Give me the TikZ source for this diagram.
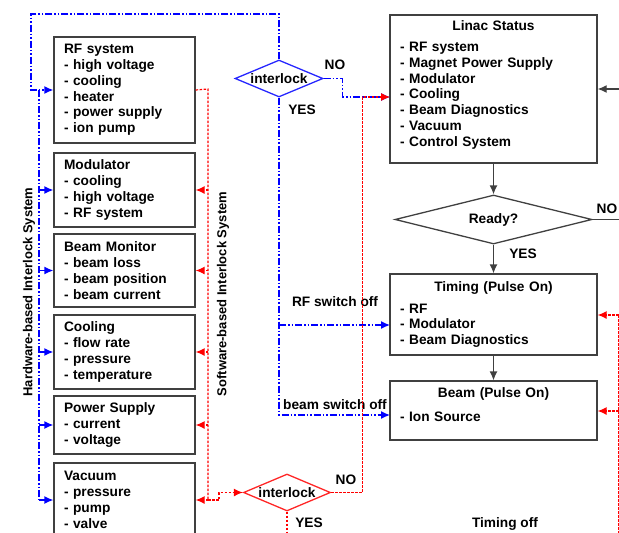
\documentclass[tikz,border=0pt]{standalone}
\usepackage{fontspec}
\setmainfont{Liberation Sans}
\usepackage{color}
\usetikzlibrary{shapes.geometric,arrows.meta}

\begin{document}
\begin{tikzpicture}[x=1pt,y=-1pt,
  every node/.style={font=\fontsize{13.7}{15.8}\selectfont\bfseries, text=black},
  sysbox/.style={draw=black!75, line width=1.3pt, text width=121pt, inner xsep=10pt, inner ysep=0pt, align=left},
  statbox/.style={draw=black!75, line width=1.3pt, text width=187pt, inner xsep=10pt, inner ysep=0pt},
  decide/.style={diamond, line width=1.3pt, inner sep=0pt, align=center},
  sidetitle/.style={rotate=90, font=\fontsize{13}{15.8}\selectfont\bfseries},
  hwlock/.style={draw=blue, line width=1.3pt, dash pattern=on 7pt off 2pt on 1.5pt off 2pt on 1.5pt off 2pt},
  swlock/.style={draw=red, line width=1.2pt, dash pattern=on 2.5pt off 1.5pt},
  flow/.style={draw=black!75, line width=1.3pt},
  sigarrow/.style={-{Latex[length=9pt,width=8pt]}}]
\useasboundingbox (0,0) rectangle (619,533);
\clip (0,0) rectangle (619,533);

\node[sysbox, minimum height=106pt] (rf) at (124.5,90) {RF system\\- high voltage\\- cooling\\- heater\\- power supply\\- ion pump};
\node[sysbox, minimum height=74pt] (mod) at (124.5,190) {Modulator\\- cooling\\- high voltage\\- RF system};
\node[sysbox, minimum height=73pt] (bmon) at (124.5,270.5) {Beam Monitor\\- beam loss\\- beam position\\- beam current};
\node[sysbox, minimum height=74pt] (cool) at (124.5,352) {Cooling\\- flow rate\\- pressure\\- temperature};
\node[sysbox, minimum height=58pt] (psu) at (124.5,425) {Power Supply\\- current\\- voltage};
\node[sysbox, minimum height=74pt] (vac) at (124.5,500) {Vacuum\\- pressure\\- pump\\- valve};

\node[sidetitle] (hwlabel) at (29,292) {Hardware-based Interlock System};
\node[sidetitle] (swlabel) at (223,294) {Software-based Interlock System};

\node[statbox, minimum height=148pt] (linac) at (493.5,89) {\centering Linac Status\par\vspace{5pt}\raggedright
- RF system\\- Magnet Power Supply\\- Modulator\\- Cooling\\- Beam Diagnostics\\- Vacuum\\- Control System\par\vspace{8pt}};
\node[decide, draw=black!75, minimum width=197pt, minimum height=49pt, aspect=4] (ready) at (493.5,219.5) {Ready?};
\node[statbox, minimum height=81pt] (timing) at (493.5,314.5) {\centering Timing (Pulse On)\par\vspace{6pt}\raggedright
- RF\\- Modulator\\- Beam Diagnostics};
\node[statbox, minimum height=59pt] (beam) at (493.5,410.5) {\centering Beam (Pulse On)\par\vspace{8pt}\raggedright
- Ion Source\par\vspace{12pt}};

\node[decide, draw=blue!85, minimum width=88pt, minimum height=37pt, aspect=2.4] (hwchk) at (279,78.5) {interlock};
\node[decide, draw=red!85, minimum width=87pt, minimum height=37pt, aspect=2.4] (swchk) at (287,492.5) {interlock};

\node (hwno) at (335,65) {NO};
\node (hwyes) at (302,110) {YES};
\node (swno) at (346,480) {NO};
\node (swyes) at (309,523) {YES};
\node (rdyno) at (607,209) {NO};
\node (rdyyes) at (523,254) {YES};
\node (rfoff) at (335,302) {RF switch off};
\node (beamoff) at (335,405) {beam switch off};
\node (toff) at (505,524) {Timing off};

\coordinate (hwtop) at (31,14);
\coordinate (hwbus) at (39,90);
\coordinate (swbus) at (208,89);
\coordinate (statin) at (390,97);
\coordinate (timein) at (390,325);
\coordinate (beamin) at (390,415);
\coordinate (loopback) at (630,89);
\coordinate (offbus) at (618.5,315);
\coordinate (beamstop) at (618.5,411);

% hardware interlock
\draw[hwlock, sigarrow] (hwchk.north) |- (hwtop) |- (rf.west);
\draw[hwlock] (hwbus) -- (hwbus |- vac.west);
\foreach \b in {mod,bmon,cool,psu,vac}
  \draw[hwlock, sigarrow] (hwbus |- \b.west) -- (\b.west);
\draw[hwlock, sigarrow] (hwchk.east) -- ++(19,0) |- (statin);
\draw[hwlock, sigarrow] (hwchk.south) |- (beamin);
\draw[hwlock, sigarrow] (hwchk.south |- timein) -- (timein);

% software interlock
\draw[swlock] (rf.east) -- (swbus) -- (swbus |- vac.east);
\foreach \b in {mod,bmon,cool,psu,vac}
  \draw[swlock, sigarrow] (swbus |- \b.east) -- (\b.east);
\draw[swlock, sigarrow] (swbus |- vac.east) -- ++(11,0) |- (swchk.west);
\draw[swlock, sigarrow] (swchk.east) -- ++(31,0) |- (statin);
\draw[swlock] (swchk.south) -- ++(0,40);

% status flow
\draw[flow, sigarrow] (linac) -- (ready);
\draw[flow, sigarrow] (ready) -- (timing);
\draw[flow, sigarrow] (timing) -- (beam);
\draw[flow, sigarrow] (loopback) -- (linac.east);
\draw[flow] (ready.east) -- ++(40,0);
\draw[swlock, sigarrow] (offbus) -- (timing.east |- offbus);
\draw[swlock, sigarrow] (beamstop) -- (beam.east |- beamstop);
\draw[swlock] (offbus) -- ++(0,240);
\end{tikzpicture}
\end{document}
